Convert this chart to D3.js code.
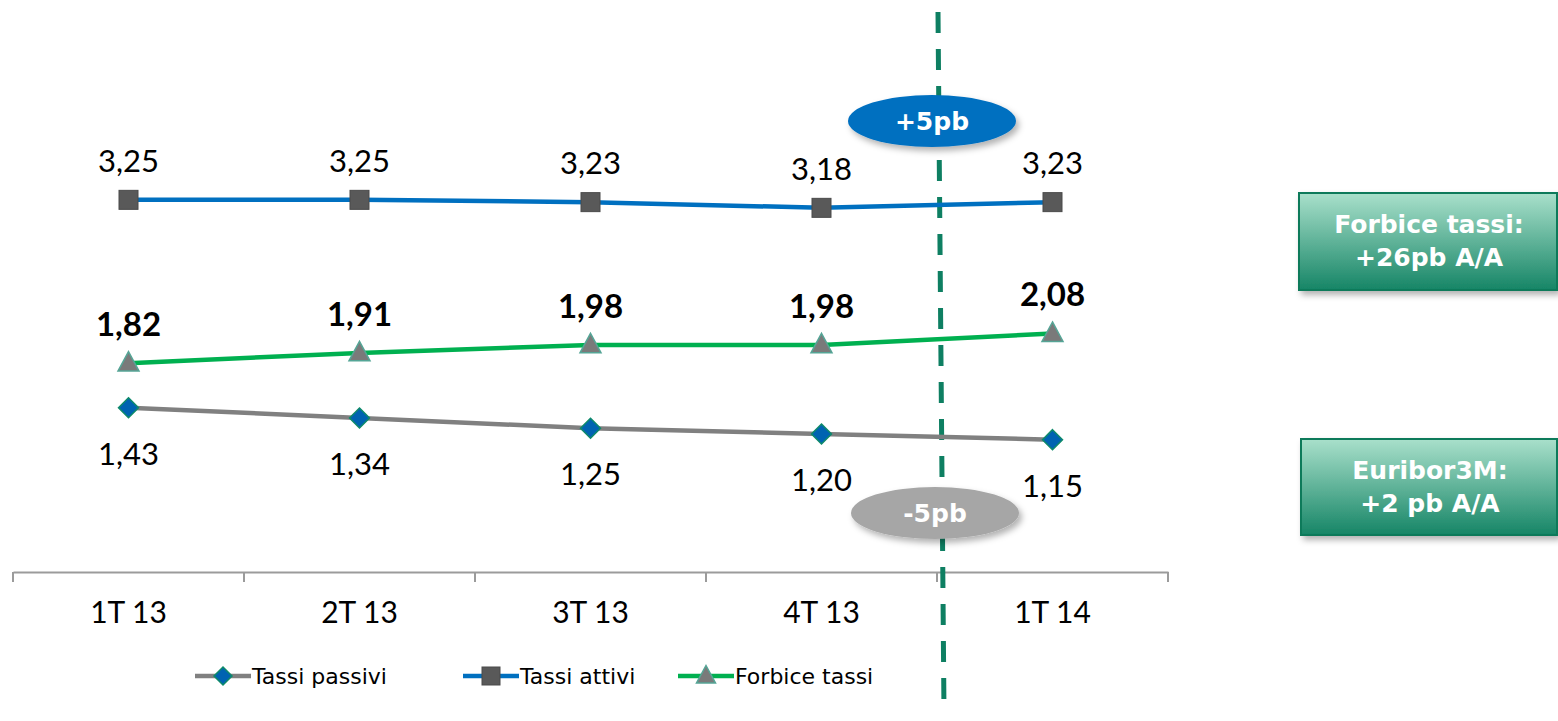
<!DOCTYPE html>
<html><head><meta charset="utf-8">
<script src="https://cdn.jsdelivr.net/npm/d3@7"></script>
<style>
html,body{margin:0;padding:0;background:#fff;}
svg{display:block;font-family:"Lato","Open Sans",sans-serif;}
</style></head>
<body>
<svg id="c" width="1558" height="721"></svg>
<script>
const categories = ["1T 13","2T 13","3T 13","4T 13","1T 14"];
const tassiPassivi = [1.43,1.34,1.25,1.20,1.15];
const tassiAttivi = [3.25,3.25,3.23,3.18,3.23];
const forbiceTassi = [1.82,1.91,1.98,1.98,2.08];
const legendLabels = ["Tassi passivi","Tassi attivi","Forbice tassi"];
const bubbleLabels = ["+5pb","-5pb"];
const boxTexts = [["Forbice tassi:","+26pb A/A"],["Euribor3M:","+2 pb A/A"]];

const svg = d3.select("#c");
const defs = svg.append("defs");
const sh = defs.append("filter").attr("id","sh").attr("x","-20%").attr("y","-30%").attr("width","150%").attr("height","170%");
sh.append("feDropShadow").attr("dx",3).attr("dy",4).attr("stdDeviation",3).attr("flood-color","#000").attr("flood-opacity",0.3);
const gr = defs.append("linearGradient").attr("id","gb").attr("x1",0).attr("y1",0).attr("x2",0).attr("y2",1);
gr.append("stop").attr("offset","0%").attr("stop-color","#a9e0cb");
gr.append("stop").attr("offset","100%").attr("stop-color","#168566");

const DV = "'DejaVu Sans', sans-serif";
const LT = "Lato, 'Open Sans', sans-serif";

const x = d3.scaleBand().domain(categories).range([13,1168]).padding(0);
const y = d3.scaleLinear().domain([0,5]).range([571,0]);
const cx = d => x(d) + x.bandwidth()/2;

// axis
const axisG = svg.append("g").attr("transform","translate(0,572)");
axisG.call(d3.axisBottom(x).tickSize(0).tickPadding(30));
axisG.select(".domain").attr("stroke","#9b9b9b").attr("stroke-width",2);
axisG.selectAll(".tick text").style("font-size","30px").style("font-family",LT).attr("fill","#000").attr("dy","0.71em");
const edges = categories.map(c=>x(c)).concat([x.range()[1]]);
axisG.selectAll("line.edge").data(edges).enter().append("line").attr("class","edge")
  .attr("x1",d=>d).attr("x2",d=>d).attr("y1",0).attr("y2",10).attr("stroke","#9b9b9b").attr("stroke-width",2);

const line = d3.line().x((d,i)=>cx(categories[i])).y(d=>y(d));

// dashed vertical line (behind bubbles)
svg.append("line").attr("x1",938).attr("y1",12).attr("x2",944).attr("y2",712)
  .attr("stroke","#0e7f62").attr("stroke-width",5).attr("stroke-dasharray","21,16");

// lines
svg.append("path").datum(tassiPassivi).attr("d",line).attr("fill","none").attr("stroke","#808080").attr("stroke-width",4.5);
svg.append("path").datum(tassiAttivi).attr("d",line).attr("fill","none").attr("stroke","#0070c0").attr("stroke-width",4.5);
svg.append("path").datum(forbiceTassi).attr("d",line).attr("fill","none").attr("stroke","#00b050").attr("stroke-width",4.5);

// markers
const diamond = (g,px,py,r)=> g.append("path").attr("d",`M${px},${py-r}L${px+r},${py}L${px},${py+r}L${px-r},${py}Z`)
  .attr("fill","#0063b1").attr("stroke","#0e8a6a").attr("stroke-width",1.5);
const square = (g,px,py,r)=> g.append("rect").attr("x",px-r).attr("y",py-r).attr("width",2*r).attr("height",2*r)
  .attr("fill","#595959").attr("stroke","#4a4a4a").attr("stroke-width",1);
const tri = (g,px,py,r)=> g.append("path").attr("d",`M${px},${py-r}L${px+r},${py+r*0.85}L${px-r},${py+r*0.85}Z`)
  .attr("fill","#7a7a7a").attr("stroke","#55a596").attr("stroke-width",1.5);

const mk = svg.append("g");
tassiPassivi.forEach((v,i)=>diamond(mk,cx(categories[i]),y(v),10));
tassiAttivi.forEach((v,i)=>square(mk,cx(categories[i]),y(v),9.5));
forbiceTassi.forEach((v,i)=>tri(mk,cx(categories[i]),y(v)-1,10.5));

const fmt = v => v.toFixed(2).replace(".",",");
const lab = svg.append("g").attr("text-anchor","middle").attr("fill","#000").style("font-family",LT);
tassiAttivi.forEach((v,i)=>lab.append("text").attr("x",cx(categories[i])).attr("y",y(v)-28).style("font-size","31px").text(fmt(v)));
forbiceTassi.forEach((v,i)=>lab.append("text").attr("x",cx(categories[i])).attr("y",y(v)-27).style("font-size","33px").style("font-weight","bold").text(fmt(v)));
tassiPassivi.forEach((v,i)=>lab.append("text").attr("x",cx(categories[i])).attr("y",y(v)+57).style("font-size","31px").text(fmt(v)));

// bubbles
const bub = [{cx:932,cy:121,fill:"#0070c0",t:bubbleLabels[0]},{cx:935,cy:513,fill:"#a6a6a6",t:bubbleLabels[1]}];
bub.forEach(b=>{
  svg.append("ellipse").attr("cx",b.cx).attr("cy",b.cy).attr("rx",84).attr("ry",26).attr("fill",b.fill).attr("filter","url(#sh)");
  svg.append("text").attr("x",b.cx).attr("y",b.cy+9).attr("text-anchor","middle").style("font-size","25px")
    .style("font-family",DV).style("font-weight","bold").attr("fill","#fff").text(b.t);
});

// boxes
const boxes = [{x:1299,y:193,w:258,h:97},{x:1301,y:439,w:256,h:96}];
boxes.forEach((b,i)=>{
  svg.append("rect").attr("x",b.x).attr("y",b.y).attr("width",b.w).attr("height",b.h)
    .attr("fill","url(#gb)").attr("stroke","#0e7a5a").attr("stroke-width",2).attr("filter","url(#sh)");
  boxTexts[i].forEach((t,j)=>svg.append("text").attr("x",b.x+b.w/2+1).attr("y",b.y+40+j*33).attr("text-anchor","middle")
    .style("font-size","25px").style("font-family",DV).style("font-weight","bold").attr("fill","#fff").text(t));
});

// legend
const legX = [195,463,678];
const lg = svg.append("g");
legendLabels.forEach((t,i)=>{
  const x0 = legX[i], yy = 676;
  const col = ["#808080","#0070c0","#00b050"][i];
  lg.append("line").attr("x1",x0).attr("x2",x0+56).attr("y1",yy).attr("y2",yy).attr("stroke",col).attr("stroke-width",4.5);
  if(i===0) diamond(lg,x0+28,yy,9);
  if(i===1) square(lg,x0+28,yy,9);
  if(i===2) tri(lg,x0+28,yy-1,9.5);
  lg.append("text").attr("x",x0+57).attr("y",yy+8).style("font-size","22px").style("font-family",DV)
    .attr("fill","#000").text(t);
});
</script>
</body></html>
